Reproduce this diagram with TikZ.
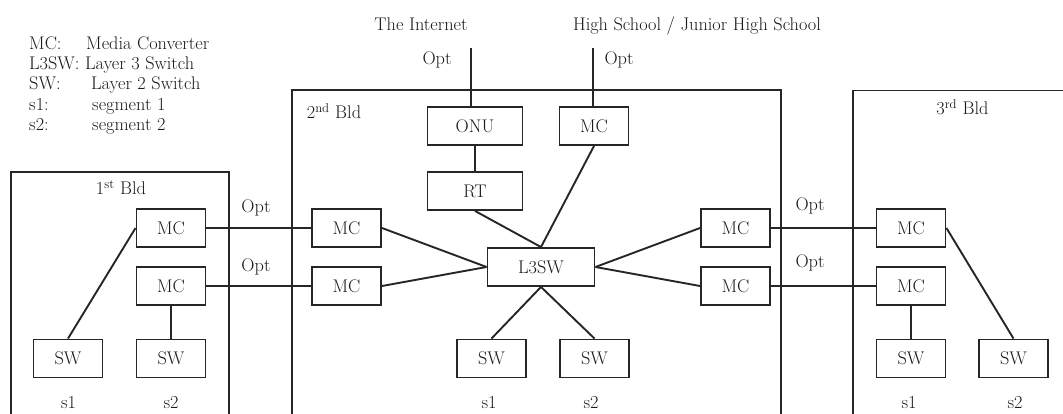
\documentclass[tikz,border=0pt]{standalone}
\usepackage{fontspec}
\begin{document}
\begin{tikzpicture}[x=1pt,y=-1pt,
  font=\fontsize{18.3}{20}\selectfont,
  ink/.style={line width=1.9pt, draw=black!85},
  unit/.style={ink, rectangle, minimum width=69, minimum height=38, inner sep=0pt, text=black!90},
  wideunit/.style={unit, minimum width=95},
  core/.style={unit, minimum width=107},
  lbl/.style={inner sep=0pt, anchor=base, text=black!90},
  leg/.style={inner sep=0pt, anchor=base west, text=black!90}]
\useasboundingbox (0,0) rectangle (1063,414);

% legend
\node[leg] (lg1a) at (29,50) {MC:};
\node[leg] (lg1b) at (86,50) {Media Converter};
\node[leg] (lg2a) at (29,69.5) {L3SW: Layer 3 Switch};
\node[leg] (lg3a) at (29,90) {SW:};
\node[leg] (lg3b) at (91,90) {Layer 2 Switch};
\node[leg] (lg4a) at (29,110.5) {s1:};
\node[leg] (lg4b) at (92,110.5) {segment 1};
\node[leg] (lg5a) at (29,130.5) {s2:};
\node[leg] (lg5b) at (92,130.5) {segment 2};

% building outlines (open at the bottom)
\draw[ink] (11,414) -- (11,172) -- (229,172) -- (229,414);
\draw[ink] (292,414) -- (292,90) -- (781,90) -- (781,414);
\draw[ink] (853,414) -- (853,90.5) -- (1063,90.5);

\node[lbl] (bld1) at (121,195) {1\textsuperscript{st} Bld};
\node[lbl] (bld2) at (334,119) {2\textsuperscript{nd} Bld};
\node[lbl] (bld3) at (962.5,115) {3\textsuperscript{rd} Bld};

% outside links
\node[lbl] (inettxt) at (421,31) {The Internet};
\node[lbl] (hstxt) at (697,31) {High School / Junior High School};
\coordinate (inet) at (471,48);
\coordinate (hs) at (593,48);
\node[lbl] (optin) at (437,65) {Opt};
\node[lbl] (opths) at (619,65) {Opt};

% 1st building
\node[unit] (amcA) at (171,228) {MC};
\node[unit] (amcB) at (171,286) {MC};
\node[unit] (aswA) at (68,358.5) {SW};
\node[unit] (aswB) at (171,358.5) {SW};
\node[lbl] (as1) at (68.5,408) {s1};
\node[lbl] (as2) at (171,408) {s2};

% 2nd building
\node[wideunit] (onu) at (475,126) {ONU};
\node[wideunit] (rt) at (475,191) {RT};
\node[unit] (bmcT) at (594,126) {MC};
\node[core] (l3) at (541,267) {L3SW};
\node[unit] (bmcA) at (346.5,228) {MC};
\node[unit] (bmcB) at (346.5,286) {MC};
\node[unit] (bmcC) at (735.5,228) {MC};
\node[unit] (bmcD) at (735.5,286) {MC};
\node[unit] (bswA) at (491.5,358.5) {SW};
\node[unit] (bswB) at (594.5,358.5) {SW};
\node[lbl] (bs1) at (489,408) {s1};
\node[lbl] (bs2) at (591,408) {s2};

% 3rd building
\node[unit] (cmcA) at (911,228) {MC};
\node[unit] (cmcB) at (911,286) {MC};
\node[unit] (cswA) at (911,358.5) {SW};
\node[unit] (cswB) at (1013.5,358.5) {SW};
\node[lbl] (cs1) at (909,408) {s1};
\node[lbl] (cs2) at (1015,408) {s2};

% optical labels between buildings
\node[lbl] (optA) at (256,213) {Opt};
\node[lbl] (optB) at (256,272) {Opt};
\node[lbl] (optC) at (810,211) {Opt};
\node[lbl] (optD) at (810,268) {Opt};

% connectors
\draw[ink] (inet) -- (inet |- onu.north);
\draw[ink] (hs) -- (hs |- bmcT.north);
\draw[ink] (onu.south) -- (rt.north);
\draw[ink] (rt.south) -- (l3.north);
\draw[ink] (bmcT.south) -- (l3.north);
\draw[ink] (bmcA.east) -- (l3.west);
\draw[ink] (bmcB.east) -- (l3.west);
\draw[ink] (bmcC.west) -- (l3.east);
\draw[ink] (bmcD.west) -- (l3.east);
\draw[ink] (l3.south) -- (bswA.north);
\draw[ink] (l3.south) -- (bswB.north);

\draw[ink] (amcA.east) -- (bmcA.west);
\draw[ink] (amcB.east) -- (bmcB.west);
\draw[ink] (bmcC.east) -- (cmcA.west);
\draw[ink] (bmcD.east) -- (cmcB.west);

\draw[ink] (amcA.west) -- (aswA.north);
\draw[ink] (amcB.south) -- (aswB.north);
\draw[ink] (cmcA.east) -- (cswB.north);
\draw[ink] (cmcB.south) -- (cswA.north);
\end{tikzpicture}
\end{document}
